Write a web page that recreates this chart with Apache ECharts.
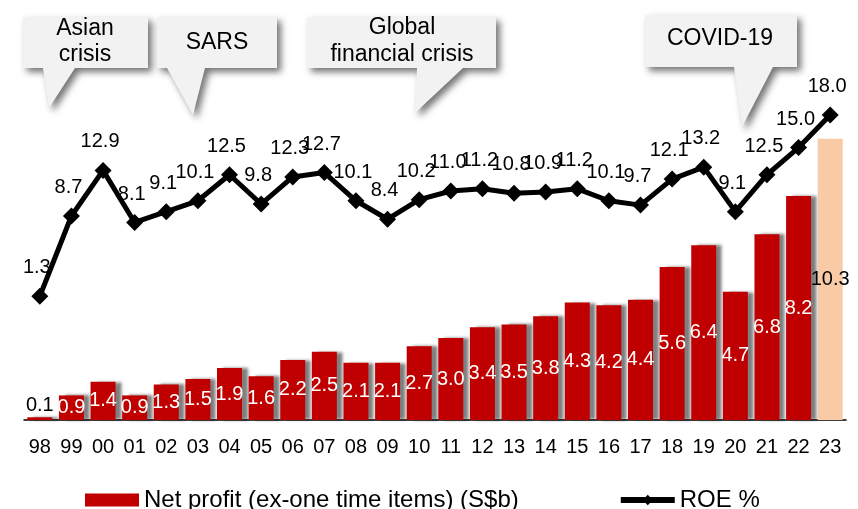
<!DOCTYPE html>
<html>
<head>
<meta charset="utf-8">
<script src="https://cdn.jsdelivr.net/npm/echarts@6/dist/echarts.min.js"></script>
<style>
html,body{margin:0;padding:0;background:#ffffff;}
#chart{width:858px;height:509px;}
</style>
</head>
<body>
<div id="chart"></div>
<script>
// ---- data ----
const years = ['98','99','00','01','02','03','04','05','06','07','08','09','10','11','12','13','14','15','16','17','18','19','20','21','22','23'];
const netProfit = [0.1,0.9,1.4,0.9,1.3,1.5,1.9,1.6,2.2,2.5,2.1,2.1,2.7,3.0,3.4,3.5,3.8,4.3,4.2,4.4,5.6,6.4,4.7,6.8,8.2,10.3];
const roe = [1.3,8.7,12.9,8.1,9.1,10.1,12.5,9.8,12.3,12.7,10.1,8.4,10.2,11.0,11.2,10.8,10.9,11.2,10.1,9.7,12.1,13.2,9.1,12.5,15.0,18.0];
const seriesNames = ['Net profit (ex-one time items) (S$b)', 'ROE %'];
const eventLabels = ['Asian\ncrisis', 'SARS', 'Global\nfinancial crisis', 'COVID-19'];

// ---- layout of callout bubbles (decoration) ----
const FONT = "'Liberation Sans', Arial, Helvetica, sans-serif";
const calloutLayout = [
  {pts: [[23,17],[148,17],[148,68],[75,68],[49,108],[43,68],[23,68]], tx: 85, ty: 42, lh: 26},
  {pts: [[157,17],[277,17],[277,68],[205,68],[193,115],[167,68],[157,68]], tx: 217, ty: 43, lh: 26},
  {pts: [[307,17],[496,17],[496,68],[463,68],[415,113],[417,68],[307,68]], tx: 402, ty: 41, lh: 27},
  {pts: [[645,15],[797,15],[797,67],[773,67],[742,127],[734,67],[645,67]], tx: 720, ty: 39, lh: 26}
];

const graphics = [];
calloutLayout.forEach((c, i) => {
  graphics.push({
    type: 'polygon', z: 100,
    shape: {points: c.pts},
    style: {fill: '#f2f2f2', stroke: null, shadowBlur: 7, shadowColor: 'rgba(0,0,0,0.55)', shadowOffsetX: 4, shadowOffsetY: 4}
  });
  graphics.push({
    type: 'text', z: 101, x: c.tx, y: c.ty,
    style: {text: eventLabels[i], fill: '#000', font: '23px ' + FONT, align: 'center', verticalAlign: 'middle', lineHeight: c.lh}
  });
});

const lastIdx = netProfit.length - 1;
const barData = netProfit.map((v, i) => {
  if (i === lastIdx) {
    return {value: v, itemStyle: {color: '#F8CBA6', shadowColor: 'rgba(0,0,0,0)'}, label: {color: '#000'}};
  }
  if (i === 0) {
    return {value: v, label: {position: 'top', distance: 2, color: '#000'}};
  }
  return v;
});

const chart = echarts.init(document.getElementById('chart'), null, {renderer: 'canvas'});
chart.setOption({
  animation: false,
  backgroundColor: '#ffffff',
  textStyle: {fontFamily: FONT},
  grid: {left: 24, right: 12, top: 89, bottom: 89, containLabel: false},
  legend: {
    show: true,
    data: [{name: seriesNames[0], icon: 'rect'}, {name: seriesNames[1]}],
    left: 85, top: 487, padding: 0,
    itemWidth: 54, itemHeight: 13, itemGap: 99, itemTextGap: 5,
    textStyle: {fontSize: 24, color: '#000', fontFamily: FONT, lineHeight: 26},
    itemStyle: {shadowBlur: 0, shadowOffsetX: 0, shadowOffsetY: 0, shadowColor: 'rgba(0,0,0,0)'},
    lineStyle: {width: 6, color: '#000'}
  },
  xAxis: {
    type: 'category',
    data: years,
    boundaryGap: true,
    axisLine: {show: true, lineStyle: {color: '#000', width: 1.5}},
    axisTick: {show: false},
    splitLine: {show: false},
    axisLabel: {fontSize: 20, color: '#000', fontFamily: FONT, margin: 17, interval: 0}
  },
  yAxis: [
    {type: 'value', min: 0, max: 12.12, show: false, splitLine: {show: false}},
    {type: 'value', min: -10.1, max: 20.4, show: false, splitLine: {show: false}}
  ],
  series: [
    {
      name: seriesNames[0],
      type: 'bar',
      yAxisIndex: 0,
      data: barData,
      barWidth: 25,
      itemStyle: {color: '#C00000', shadowColor: 'rgba(0,0,0,0.5)', shadowBlur: 3, shadowOffsetX: 6, shadowOffsetY: 0},
      label: {show: true, position: 'inside', color: '#fff', fontSize: 20, fontFamily: FONT,
              formatter: p => Number(p.value).toFixed(1)},
      z: 2
    },
    {
      name: seriesNames[1],
      type: 'line',
      yAxisIndex: 1,
      data: roe,
      symbol: 'diamond',
      symbolSize: 17,
      itemStyle: {color: '#000'},
      lineStyle: {color: '#000', width: 5},
      label: {show: true, position: 'top', distance: 10, offset: [-3, 0], color: '#000', fontSize: 20, fontFamily: FONT,
              formatter: p => Number(p.value).toFixed(1)},
      z: 5
    }
  ],
  graphic: graphics
});
</script>
</body>
</html>
